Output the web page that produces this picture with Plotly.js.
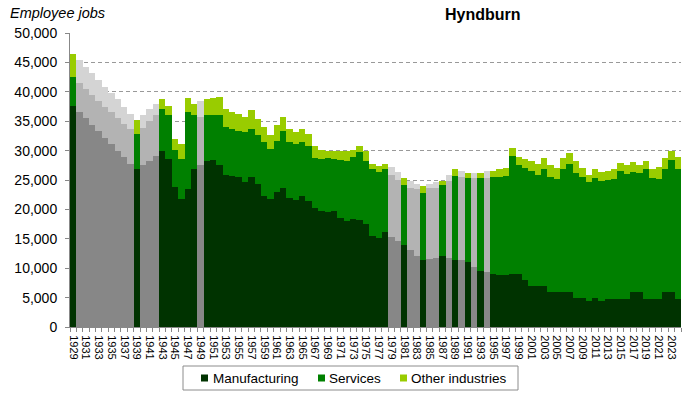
<!DOCTYPE html>
<html>
<head>
<meta charset="utf-8">
<script src="https://cdn.plot.ly/plotly-3.0.1.min.js"></script>
<style>html,body{margin:0;padding:0;background:#fff;}#chart{width:700px;height:399px;}</style>
</head>
<body>
<div id="chart"></div>
<script>
// Years 1929-2024
const years = [];
for (let y = 1929; y <= 2024; y++) years.push(y);

// Estimated (grey) years
const estimatedYears = [1930,1931,1932,1933,1934,1935,1936,1937,1938,1940,1941,1942,1949,
  1979,1980,1982,1983,1985,1986,1988,1990,1992,1994];

const manufacturing = [
  37600,36600,35500,34400,33300,32200,31100,30000,28900,27800, // 1929-1938
  26800,27500,28300,29100,29900,28600,23800,21800,23500,26800, // 1939-1948
  27500,28200,28400,27600,25900,25700,25500,24700,25500,24300, // 1949-1958
  22300,21800,22900,23700,21900,21600,22200,21500,20200,19800, // 1959-1968
  19600,19800,18600,18100,18400,18200,17500,15500,15100,16100, // 1969-1978
  15300,14700,14000,13100,12100,11400,11500,11800,12100,11700, // 1979-1988
  11400,11400,11100,10200,9500,9300,9000,8800,8800,9000,       // 1989-1998
  9000,8000,7000,7000,7000,6000,6000,6000,6000,5000,            // 1999-2008
  5000,4500,5000,4500,4800,4800,4800,4800,6000,6000,            // 2009-2018
  4800,4800,4800,6000,6000,4800                                 // 2019-2024
];
const services = [
  4900,4900,5000,5100,5200,5300,5400,5600,5700,5900,
  6000,6400,6700,7000,7200,7400,6300,6800,13100,9200,
  8200,7800,7600,8400,8100,8000,7900,8400,8200,8400,
  9100,8500,8800,9700,9600,9500,9200,9200,8500,8800,
  9100,8800,9800,10200,10500,11500,10700,11400,11200,10800,
  10600,10300,10200,10600,11400,11400,12100,11900,12000,13200,
  14200,14100,14200,15200,15800,16100,16500,16700,16900,20000,
  18500,19100,19500,18800,19800,19500,19100,20900,21700,21200,
  20500,20200,20400,20300,20200,20300,21700,21200,20400,20200,
  22100,20600,20400,20800,22400,22100
];
const other = [
  4000,3900,3800,3700,3500,3400,3300,3100,2900,2600,
  2400,2200,2000,1800,1700,1600,1800,2600,2400,2000,
  2700,2800,3000,3200,3100,2800,2800,2600,3200,2600,
  2600,2400,2600,2400,2200,2000,2300,2100,2100,1500,
  1300,1400,1500,1600,1200,1000,1800,800,1000,900,
  1300,1300,1200,1200,900,1100,800,900,800,1000,
  1300,1100,900,800,900,1100,1000,1300,1400,1400,
  1400,1500,1800,1900,1900,2000,2000,1900,1900,2000,
  1600,1100,1400,1500,1600,1700,1400,1500,1700,1400,
  1400,1400,2000,1900,1600,2000
];

const seriesNames = ['Manufacturing','Services','Other industries'];
const greenColors = ['#003300','#008000','#99cc00'];
const greyColors = ['#878787','#b3b3b3','#d4d4d4'];
const seriesData = [manufacturing, services, other];

const FONT = 'Liberation Sans, Arial, sans-serif';

const traces = seriesData.map((vals, k) => ({
  type: 'bar',
  name: seriesNames[k],
  x: years,
  y: vals,
  marker: {
    color: years.map(y => estimatedYears.includes(y) ? greyColors[k] : greenColors[k]),
    line: {width: 0}
  },
  showlegend: false,
  hoverinfo: 'x+y+name'
}));

// plot area in pixels (for legend placement)
const L = 70, R = 19, T = 33, B = 72, W = 700, H = 399;
const pw = W - L - R, ph = H - T - B;
const px = v => (v - L) / pw;
const py = v => (H - B - v) / ph;

// custom legend (box, small squares, labels)
const legendSquaresX = [201, 318, 400];
const legendTextX = [211, 327, 409];
const legendY = 378;
const shapes = [
  {type: 'rect', xref: 'paper', yref: 'paper', x0: px(183), x1: px(518), y0: py(366), y1: py(390),
   line: {color: '#8c8c8c', width: 1}, fillcolor: 'rgba(0,0,0,0)'}
];
const annotations = [
  {text: '<i>Employee jobs</i>', xref: 'paper', yref: 'paper', x: px(8), y: py(23), xanchor: 'left', yanchor: 'bottom',
   showarrow: false, font: {size: 14.5, family: FONT}},
  {text: '<b>Hyndburn</b>', xref: 'paper', yref: 'paper', x: px(483), y: py(25), xanchor: 'center', yanchor: 'bottom',
   showarrow: false, font: {size: 16, family: FONT}}
];
seriesNames.forEach((n, k) => {
  shapes.push({type: 'rect', xref: 'paper', yref: 'paper',
    x0: px(legendSquaresX[k]), x1: px(legendSquaresX[k] + 7), y0: py(legendY + 3.5), y1: py(legendY - 3.5),
    line: {width: 0}, fillcolor: greenColors[k]});
  annotations.push({text: n, xref: 'paper', yref: 'paper', x: px(legendTextX[k]), y: py(legendY),
    xanchor: 'left', yanchor: 'middle', showarrow: false, font: {size: 13.5, family: FONT}});
});

const layout = {
  width: W, height: H,
  margin: {l: L, r: R, t: T, b: B},
  paper_bgcolor: '#ffffff', plot_bgcolor: '#ffffff',
  barmode: 'stack', bargap: 0,
  font: {family: FONT, color: '#000'},
  showlegend: false,
  xaxis: {
    type: 'linear', range: [1928.5, 2024.5],
    tickmode: 'linear', tick0: 1929, dtick: 2,
    tickangle: 90, ticks: '',
    ticklabelstandoff: 5,
    tickfont: {size: 11, family: FONT},
    showline: true, linecolor: '#888', linewidth: 1,
    showgrid: false, zeroline: false,
    minor: {tick0: 1928.5, dtick: 1, ticks: 'outside', ticklen: 4, tickcolor: '#888', showgrid: false}
  },
  yaxis: {
    range: [0, 50000], tickmode: 'linear', tick0: 0, dtick: 5000,
    tickformat: ',d',
    tickfont: {size: 14, family: FONT},
    ticks: 'outside', ticklen: 4, tickcolor: '#888',
    ticklabelstandoff: 5,
    showline: true, linecolor: '#888', linewidth: 1,
    showgrid: true, gridcolor: '#999', griddash: '4px,3px', gridwidth: 1,
    zeroline: false
  },
  shapes: shapes,
  annotations: annotations
};

Plotly.newPlot('chart', traces, layout, {displayModeBar: false, staticPlot: true});
</script>
</body>
</html>
